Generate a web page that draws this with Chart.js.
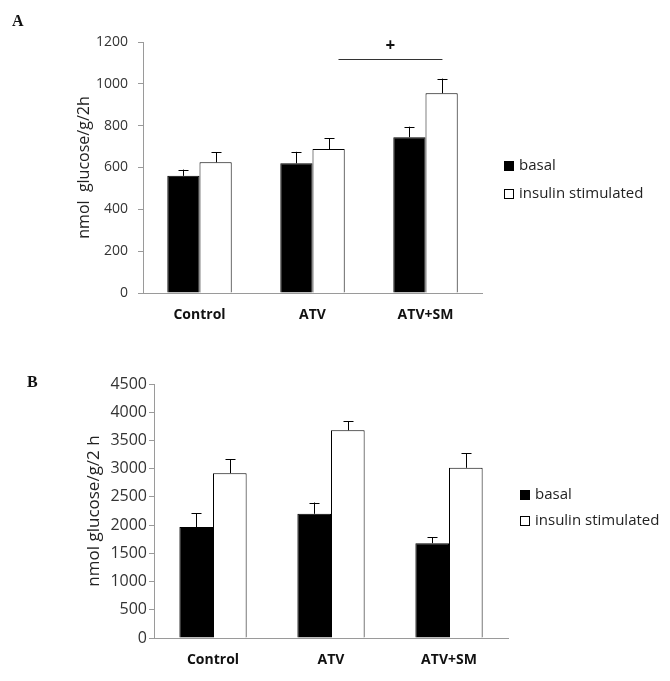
<!DOCTYPE html>
<html>
<head>
<meta charset="utf-8">
<script src="https://cdn.jsdelivr.net/npm/chart.js@4/dist/chart.umd.min.js"></script>
<style>
  body { margin: 0; background: #fff; }
  #page { position: relative; width: 670px; height: 681px; }
  .panel { position: absolute; left: 0; }
  .tag { position: absolute; font-family: 'Liberation Serif', serif; font-weight: bold; font-size: 16px; color: #111; }
</style>
</head>
<body>
<div id="page">
  <canvas id="chartA" class="panel" width="670" height="340" style="top:0"></canvas>
  <canvas id="chartB" class="panel" width="670" height="341" style="top:340px"></canvas>
  <div class="tag" style="left:12px;top:12px">A</div>
  <div class="tag" style="left:27px;top:373px">B</div>
</div>
<script>
const categories = ['Control', 'ATV', 'ATV+SM'];
const seriesNames = ['basal', 'insulin stimulated'];

// panel A
const basalA = [560, 620, 745];
const basalErrA = [30, 55, 50];
const insulinA = [625, 688, 955];
const insulinErrA = [48, 52, 70];
const sigSpanA = [1.23, 2.15];   // category positions of the bracket ends
const sigLevelA = 1117;

// panel B
const basalB = [1965, 2200, 1680];
const basalErrB = [245, 200, 105];
const insulinB = [2920, 3680, 3015];
const insulinErrB = [250, 160, 260];

const FONT = "'Open Sans', sans-serif";
const AXIS_GREY = '#9a9a9a';

// upward-only error bars, drawn from the bar top
const errorBars = {
    id: 'errorBars',
    afterDatasetsDraw(chart) {
        const ctx = chart.ctx, y = chart.scales.y;
        ctx.save();
        ctx.strokeStyle = '#000';
        ctx.lineWidth = 1;
        chart.data.datasets.forEach((ds, di) => {
            chart.getDatasetMeta(di).data.forEach((bar, i) => {
                const top = y.getPixelForValue(ds.data[i] + ds.errors[i]);
                const x = Math.round(bar.x) + 0.5;
                ctx.beginPath();
                ctx.moveTo(x, bar.y);
                ctx.lineTo(x, top);
                ctx.moveTo(x - 5, Math.round(top) + 0.5);
                ctx.lineTo(x + 5, Math.round(top) + 0.5);
                ctx.stroke();
            });
        });
        ctx.restore();
    }
};

// significance bracket (panel A only)
const sigBracket = {
    id: 'sigBracket',
    afterDraw(chart, args, opts) {
        if (!opts.span) return;
        const ctx = chart.ctx;
        const x1 = chart.scales.x.getPixelForValue(opts.span[0]);
        const x2 = chart.scales.x.getPixelForValue(opts.span[1]);
        const yy = Math.round(chart.scales.y.getPixelForValue(opts.level)) + 0.5;
        ctx.save();
        ctx.strokeStyle = '#333';
        ctx.lineWidth = 1;
        ctx.beginPath();
        ctx.moveTo(x1, yy);
        ctx.lineTo(x2, yy);
        ctx.stroke();
        ctx.fillStyle = '#111';
        ctx.font = 'bold 17px ' + FONT;
        ctx.textAlign = 'center';
        ctx.textBaseline = 'middle';
        ctx.fillText(opts.mark, (x1 + x2) / 2, yy - 13);
        ctx.restore();
    }
};

// legend to the right of the plot
const sideLegend = {
    id: 'sideLegend',
    afterDraw(chart, args, opts) {
        const ctx = chart.ctx;
        ctx.save();
        ctx.font = '15px ' + FONT;
        ctx.textBaseline = 'middle';
        ctx.textAlign = 'left';
        chart.data.datasets.forEach((ds, i) => {
            const cy = opts.y + i * opts.gap;
            ctx.fillStyle = ds.backgroundColor;
            ctx.fillRect(opts.x + 0.5, cy - 4.5, 9, 9);
            ctx.strokeStyle = '#000';
            ctx.strokeRect(opts.x + 0.5, cy - 4.5, 9, 9);
            ctx.fillStyle = '#222';
            ctx.fillText(ds.label, opts.x + 15, cy);
        });
        ctx.restore();
    }
};

function makeChart(id, basal, basalErr, insulin, insulinErr, cfg) {
    return new Chart(document.getElementById(id), {
        type: 'bar',
        data: {
            labels: categories,
            datasets: [
                { label: seriesNames[0], data: basal, errors: basalErr, backgroundColor: '#000', borderColor: '#000', borderWidth: 1 },
                { label: seriesNames[1], data: insulin, errors: insulinErr, backgroundColor: '#fff', borderColor: '#000', borderWidth: 1 }
            ]
        },
        options: {
            responsive: false,
            animation: false,
            events: [],
            categoryPercentage: 0.57,
            barPercentage: 1,
            layout: { padding: cfg.padding },
            plugins: {
                legend: { display: false },
                tooltip: { enabled: false },
                sideLegend: cfg.legend,
                sigBracket: cfg.sig || {}
            },
            scales: {
                x: {
                    grid: { display: false, drawTicks: false },
                    border: { color: AXIS_GREY },
                    ticks: { color: '#111', padding: 14, font: { family: FONT, size: 14, weight: 'bold' } },
                    afterFit: s => { s.height = cfg.xHeight; }
                },
                y: {
                    min: 0, max: cfg.max,
                    grid: { drawOnChartArea: false, tickLength: 5, color: AXIS_GREY },
                    border: { color: AXIS_GREY },
                    ticks: { stepSize: cfg.step, color: '#333', padding: cfg.tickPad, font: { family: FONT, size: cfg.tickSize }, callback: v => String(v) },
                    title: { display: true, text: cfg.title, color: '#222', padding: 0, font: { family: FONT, size: cfg.titleSize } },
                    afterFit: s => { s.width = cfg.yWidth; }
                }
            }
        },
        plugins: [errorBars, sigBracket, sideLegend]
    });
}

makeChart('chartA', basalA, basalErrA, insulinA, insulinErrA, {
    padding: { top: 42, right: 188, left: 75, bottom: 0 },
    xHeight: 47, yWidth: 68, max: 1200, step: 200, tickPad: 10, tickSize: 14,
    title: 'nmol  glucose/g/2h', titleSize: 16,
    legend: { x: 504, y: 166, gap: 28 },
    sig: { span: sigSpanA, level: sigLevelA, mark: '+' }
});

makeChart('chartB', basalB, basalErrB, insulinB, insulinErrB, {
    padding: { top: 44, right: 162, left: 84, bottom: 0 },
    xHeight: 43, yWidth: 70, max: 4500, step: 500, tickPad: 2, tickSize: 16,
    title: 'nmol glucose/g/2 h', titleSize: 17,
    legend: { x: 520, y: 155, gap: 26 }
});
</script>
</body>
</html>
